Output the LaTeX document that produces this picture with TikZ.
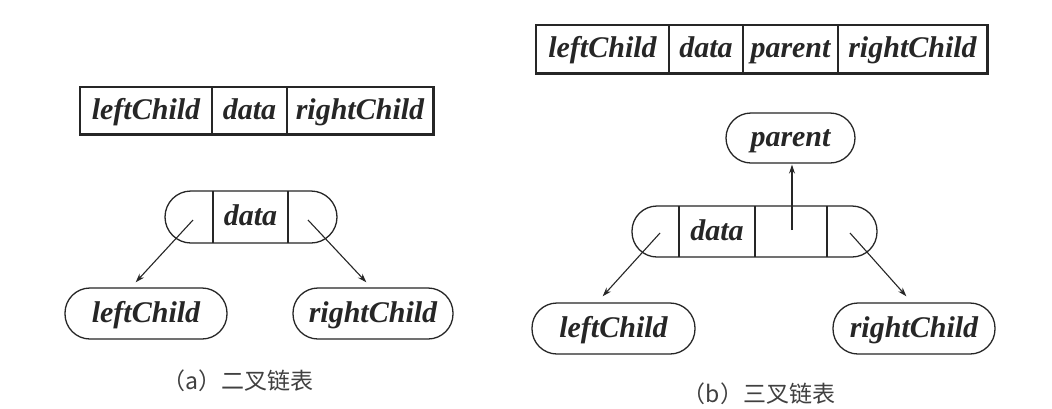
\documentclass[tikz,border=0pt]{standalone}
\usepackage{fontspec}
\setmainfont{Liberation Serif}
\newfontfamily\cjk{Noto Sans CJK SC}
\usetikzlibrary{arrows.meta,calc}
\tikzset{
  lbl/.style={font=\fontsize{30}{34}\selectfont\bfseries\itshape, text=black!85, text height=21pt, text depth=4pt},
  cell/.style={draw=black!85, line width=1.3pt, minimum height=#1, inner sep=0pt, lbl},
  oval/.style={draw=black!85, line width=1.3pt, rounded corners=25pt, minimum height=51pt, inner sep=0pt, lbl},
  ptr/.style={-{Stealth[length=9pt,width=6pt]}, line width=1.1pt, draw=black!85, shorten >=1pt},
  captext/.style={font=\cjk\fontsize{23}{26}\selectfont, text=black!75},
  shadowline/.style={line width=3pt, draw=black!85}
}
\begin{document}
\begin{tikzpicture}[x=1pt,y=-1pt]
\useasboundingbox (0,0) rectangle (1052,408);
\fill[white] (0,0) rectangle (1052,408);
% ---------- (a) ----------
\node[cell=47pt, minimum width=132pt] (ta1) at (146,110.5) {leftChild};
\node[cell=47pt, minimum width=75pt] (ta2) at (249.5,110.5) {data};
\node[cell=47pt, minimum width=146pt] (ta3) at (360,110.5) {rightChild};
\draw[shadowline] (ta1.south west) -- (ta3.south east) -- (ta3.north east);

\node[oval, minimum width=172pt, minimum height=52pt, rounded corners=26pt] (na) at (251,217) {};
\node[lbl] (nadata) at (250.5,217) {data};
\draw[draw=black!85, line width=1.3pt] (213,191) -- (213,243) (288,191) -- (288,243);
\coordinate (naL) at (193,220);
\coordinate (naR) at (308,220);

\node[oval, minimum width=162pt] (lca) at (146,313.5) {leftChild};
\node[oval, minimum width=160pt] (rca) at (373,313.5) {rightChild};
\draw[ptr] (naL) -- (135,283);
\draw[ptr] (naR) -- (367,283);

\node[captext] (capa) at (238,381) {（a）二叉链表};

% ---------- (b) ----------
\node[cell=48pt, minimum width=133pt] (tb1) at (602.5,49) {leftChild};
\node[cell=48pt, minimum width=74pt] (tb2) at (706,49) {data};
\node[cell=48pt, minimum width=95pt] (tb3) at (790.5,49) {parent};
\node[cell=48pt, minimum width=149pt] (tb4) at (912.5,49) {rightChild};
\draw[shadowline] (tb1.south west) -- (tb4.south east) -- (tb4.north east);

\node[oval, minimum width=129pt, minimum height=50pt] (par) at (790.5,138) {parent};

\node[oval, minimum width=245pt] (nb) at (754.5,231.5) {};
\node[lbl] (nbdata) at (717,231.5) {data};
\draw[draw=black!85, line width=1.3pt] (679,206) -- (679,257) (755,206) -- (755,257) (827,206) -- (827,257);
\coordinate (nbL) at (660,233);
\coordinate (nbP) at (792,230);
\coordinate (nbR) at (850,233);

\node[oval, minimum width=163pt] (lcb) at (613.5,328.5) {leftChild};
\node[oval, minimum width=162pt] (rcb) at (914,328.5) {rightChild};
\draw[ptr] (nbP) -- (nbP |- par.south);
\draw[ptr] (nbL) -- (602,297);
\draw[ptr] (nbR) -- (907,297);

\node[captext] (capb) at (759,394) {（b）三叉链表};
\end{tikzpicture}
\end{document}
